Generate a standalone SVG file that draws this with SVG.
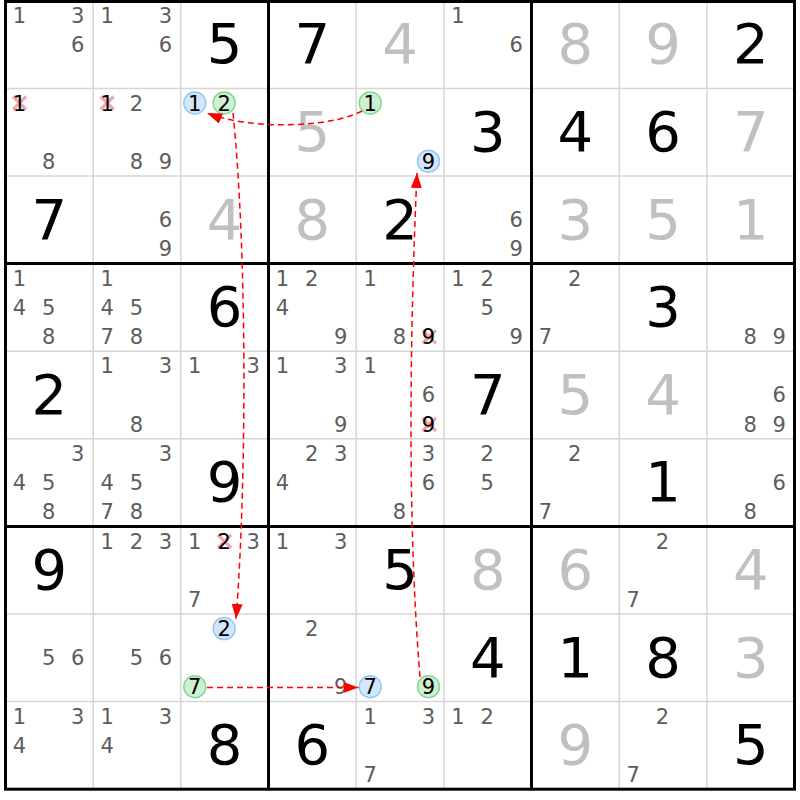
<svg xmlns="http://www.w3.org/2000/svg" width="800" height="800" viewBox="0 0 800 800">
<style>
text{font-family:"DejaVu Sans",Verdana,sans-serif;text-anchor:middle}
.g{font-size:56px;fill:#000}
.s{font-size:56px;fill:#c0c0c0}
.c{font-size:21px;fill:#5c5c5c}
.k{font-size:21px;fill:#000}
.bl{fill:#d2e7fb;stroke:#96c8f2;stroke-width:1.5}
.gr{fill:#cfefd2;stroke:#84d892;stroke-width:1.5}
.x{stroke:#f5a5ad;stroke-width:3.2}
.thin{stroke:#d6d6d6;stroke-width:1.5}
.thick{stroke:#000;stroke-width:3;fill:none}
.ln{fill:none;stroke:#f00;stroke-width:1.5;stroke-dasharray:6 4}
</style>
<defs>
<marker id="ah" markerUnits="userSpaceOnUse" markerWidth="15" markerHeight="11" refX="15" refY="5.5" orient="auto">
<path d="M0,0 L15,5.5 L0,11 z" fill="#f00"/>
</marker>
</defs>
<rect width="800" height="800" fill="#fff"/>
<g id="grid">
<path class="thin" d="M93.2,1V789M180.8,1V789M356.2,1V789M443.9,1V789M619.2,1V789M706.9,1V789M5,88.4H795M5,176H795M5,351.2H795M5,438.8H795M5,614H795M5,701.6H795"/>
<path class="thick" d="M268.5,1V789M531.5,1V789M5,263.6H795M5,526.4H795"/>
<rect class="thick" x="5.5" y="1.5" width="789" height="787.7"/>
</g>
<g id="r1c1"><text class="c" x="19.5" y="22.9">1</text><text class="c" x="77.8" y="22.9">3</text><text class="c" x="77.8" y="51.9">6</text></g>
<g id="r1c2"><text class="c" x="107.2" y="22.9">1</text><text class="c" x="165.5" y="22.9">3</text><text class="c" x="165.5" y="51.9">6</text></g>
<g id="r1c3"><text class="g" x="224.6" y="63.3">5</text></g>
<g id="r1c4"><text class="g" x="312.3" y="63.3">7</text></g>
<g id="r1c5"><text class="s" x="400" y="63.3">4</text></g>
<g id="r1c6"><text class="c" x="457.9" y="22.9">1</text><text class="c" x="516.2" y="51.9">6</text></g>
<g id="r1c7"><text class="s" x="575.3" y="63.3">8</text></g>
<g id="r1c8"><text class="s" x="663" y="63.3">9</text></g>
<g id="r1c9"><text class="g" x="750.7" y="63.3">2</text></g>
<g id="r2c1"><path class="x" d="M13,96.5L26,109.5M26,96.5L13,109.5"/><text class="k" x="19.5" y="110.6">1</text><text class="c" x="48.8" y="168.8">8</text></g>
<g id="r2c2"><path class="x" d="M100.7,96.5L113.7,109.5M113.7,96.5L100.7,109.5"/><text class="k" x="107.2" y="110.6">1</text><text class="c" x="136.5" y="110.6">2</text><text class="c" x="136.5" y="168.8">8</text><text class="c" x="165.5" y="168.8">9</text></g>
<g id="r2c3"><circle class="bl" cx="194.8" cy="103" r="11"/><text class="k" x="194.8" y="110.6">1</text><circle class="gr" cx="224.1" cy="103" r="11"/><text class="k" x="224.1" y="110.6">2</text></g>
<g id="r2c4"><text class="s" x="312.3" y="150.9">5</text></g>
<g id="r2c5"><circle class="gr" cx="370.2" cy="103" r="11"/><text class="k" x="370.2" y="110.6">1</text><circle class="bl" cx="428.5" cy="161.2" r="11"/><text class="k" x="428.5" y="168.8">9</text></g>
<g id="r2c6"><text class="g" x="487.7" y="150.9">3</text></g>
<g id="r2c7"><text class="g" x="575.3" y="150.9">4</text></g>
<g id="r2c8"><text class="g" x="663" y="150.9">6</text></g>
<g id="r2c9"><text class="s" x="750.7" y="150.9">7</text></g>
<g id="r3c1"><text class="g" x="49.3" y="238.5">7</text></g>
<g id="r3c2"><text class="c" x="165.5" y="227.2">6</text><text class="c" x="165.5" y="256.4">9</text></g>
<g id="r3c3"><text class="s" x="224.6" y="238.5">4</text></g>
<g id="r3c4"><text class="s" x="312.3" y="238.5">8</text></g>
<g id="r3c5"><text class="g" x="400" y="238.5">2</text></g>
<g id="r3c6"><text class="c" x="516.2" y="227.2">6</text><text class="c" x="516.2" y="256.4">9</text></g>
<g id="r3c7"><text class="s" x="575.3" y="238.5">3</text></g>
<g id="r3c8"><text class="s" x="663" y="238.5">5</text></g>
<g id="r3c9"><text class="s" x="750.7" y="238.5">1</text></g>
<g id="r4c1"><text class="c" x="19.5" y="285.8">1</text><text class="c" x="19.5" y="314.8">4</text><text class="c" x="48.8" y="314.8">5</text><text class="c" x="48.8" y="344">8</text></g>
<g id="r4c2"><text class="c" x="107.2" y="285.8">1</text><text class="c" x="107.2" y="314.8">4</text><text class="c" x="136.5" y="314.8">5</text><text class="c" x="107.2" y="344">7</text><text class="c" x="136.5" y="344">8</text></g>
<g id="r4c3"><text class="g" x="224.6" y="326.1">6</text></g>
<g id="r4c4"><text class="c" x="282.5" y="285.8">1</text><text class="c" x="311.8" y="285.8">2</text><text class="c" x="282.5" y="314.8">4</text><text class="c" x="340.8" y="344">9</text></g>
<g id="r4c5"><text class="c" x="370.2" y="285.8">1</text><text class="c" x="399.5" y="344">8</text><path class="x" d="M422.5,330.4L436,343.4M436,330.4L422.5,343.4"/><text class="k" x="428.5" y="344">9</text></g>
<g id="r4c6"><text class="c" x="457.9" y="285.8">1</text><text class="c" x="487.2" y="285.8">2</text><text class="c" x="487.2" y="314.8">5</text><text class="c" x="516.2" y="344">9</text></g>
<g id="r4c7"><text class="c" x="574.8" y="285.8">2</text><text class="c" x="545.5" y="344">7</text></g>
<g id="r4c8"><text class="g" x="663" y="326.1">3</text></g>
<g id="r4c9"><text class="c" x="750.2" y="344">8</text><text class="c" x="779.2" y="344">9</text></g>
<g id="r5c1"><text class="g" x="49.3" y="413.7">2</text></g>
<g id="r5c2"><text class="c" x="107.2" y="373.4">1</text><text class="c" x="165.5" y="373.4">3</text><text class="c" x="136.5" y="431.6">8</text></g>
<g id="r5c3"><text class="c" x="194.8" y="373.4">1</text><text class="c" x="253.1" y="373.4">3</text></g>
<g id="r5c4"><text class="c" x="282.5" y="373.4">1</text><text class="c" x="340.8" y="373.4">3</text><text class="c" x="340.8" y="431.6">9</text></g>
<g id="r5c5"><text class="c" x="370.2" y="373.4">1</text><text class="c" x="428.5" y="402.4">6</text><path class="x" d="M422.5,418L436,431M436,418L422.5,431"/><text class="k" x="428.5" y="431.6">9</text></g>
<g id="r5c6"><text class="g" x="487.7" y="413.7">7</text></g>
<g id="r5c7"><text class="s" x="575.3" y="413.7">5</text></g>
<g id="r5c8"><text class="s" x="663" y="413.7">4</text></g>
<g id="r5c9"><text class="c" x="779.2" y="402.4">6</text><text class="c" x="750.2" y="431.6">8</text><text class="c" x="779.2" y="431.6">9</text></g>
<g id="r6c1"><text class="c" x="77.8" y="461">3</text><text class="c" x="19.5" y="490">4</text><text class="c" x="48.8" y="490">5</text><text class="c" x="48.8" y="519.2">8</text></g>
<g id="r6c2"><text class="c" x="165.5" y="461">3</text><text class="c" x="107.2" y="490">4</text><text class="c" x="136.5" y="490">5</text><text class="c" x="107.2" y="519.2">7</text><text class="c" x="136.5" y="519.2">8</text></g>
<g id="r6c3"><text class="g" x="224.6" y="501.3">9</text></g>
<g id="r6c4"><text class="c" x="311.8" y="461">2</text><text class="c" x="340.8" y="461">3</text><text class="c" x="282.5" y="490">4</text></g>
<g id="r6c5"><text class="c" x="428.5" y="461">3</text><text class="c" x="428.5" y="490">6</text><text class="c" x="399.5" y="519.2">8</text></g>
<g id="r6c6"><text class="c" x="487.2" y="461">2</text><text class="c" x="487.2" y="490">5</text></g>
<g id="r6c7"><text class="c" x="574.8" y="461">2</text><text class="c" x="545.5" y="519.2">7</text></g>
<g id="r6c8"><text class="g" x="663" y="501.3">1</text></g>
<g id="r6c9"><text class="c" x="779.2" y="490">6</text><text class="c" x="750.2" y="519.2">8</text></g>
<g id="r7c1"><text class="g" x="49.3" y="588.9">9</text></g>
<g id="r7c2"><text class="c" x="107.2" y="548.6">1</text><text class="c" x="136.5" y="548.6">2</text><text class="c" x="165.5" y="548.6">3</text></g>
<g id="r7c3"><text class="c" x="194.8" y="548.6">1</text><path class="x" d="M217.8,534.8L231.3,547.8M231.3,534.8L217.8,547.8"/><text class="k" x="224.1" y="548.6">2</text><text class="c" x="253.1" y="548.6">3</text><text class="c" x="194.8" y="606.8">7</text></g>
<g id="r7c4"><text class="c" x="282.5" y="548.6">1</text><text class="c" x="340.8" y="548.6">3</text></g>
<g id="r7c5"><text class="g" x="400" y="588.9">5</text></g>
<g id="r7c6"><text class="s" x="487.7" y="588.9">8</text></g>
<g id="r7c7"><text class="s" x="575.3" y="588.9">6</text></g>
<g id="r7c8"><text class="c" x="662.5" y="548.6">2</text><text class="c" x="633.2" y="606.8">7</text></g>
<g id="r7c9"><text class="s" x="750.7" y="588.9">4</text></g>
<g id="r8c1"><text class="c" x="48.8" y="665.2">5</text><text class="c" x="77.8" y="665.2">6</text></g>
<g id="r8c2"><text class="c" x="136.5" y="665.2">5</text><text class="c" x="165.5" y="665.2">6</text></g>
<g id="r8c3"><circle class="bl" cx="224.1" cy="628.6" r="11"/><text class="k" x="224.1" y="636.2">2</text><circle class="gr" cx="194.8" cy="686.8" r="11"/><text class="k" x="194.8" y="694.4">7</text></g>
<g id="r8c4"><text class="c" x="311.8" y="636.2">2</text><text class="c" x="340.8" y="694.4">9</text></g>
<g id="r8c5"><circle class="bl" cx="370.2" cy="686.8" r="11"/><text class="k" x="370.2" y="694.4">7</text><circle class="gr" cx="428.5" cy="686.8" r="11"/><text class="k" x="428.5" y="694.4">9</text></g>
<g id="r8c6"><text class="g" x="487.7" y="676.5">4</text></g>
<g id="r8c7"><text class="g" x="575.3" y="676.5">1</text></g>
<g id="r8c8"><text class="g" x="663" y="676.5">8</text></g>
<g id="r8c9"><text class="s" x="750.7" y="676.5">3</text></g>
<g id="r9c1"><text class="c" x="19.5" y="723.8">1</text><text class="c" x="77.8" y="723.8">3</text><text class="c" x="19.5" y="752.8">4</text></g>
<g id="r9c2"><text class="c" x="107.2" y="723.8">1</text><text class="c" x="165.5" y="723.8">3</text><text class="c" x="107.2" y="752.8">4</text></g>
<g id="r9c3"><text class="g" x="224.6" y="764.1">8</text></g>
<g id="r9c4"><text class="g" x="312.3" y="764.1">6</text></g>
<g id="r9c5"><text class="c" x="370.2" y="723.8">1</text><text class="c" x="428.5" y="723.8">3</text><text class="c" x="370.2" y="782">7</text></g>
<g id="r9c6"><text class="c" x="457.9" y="723.8">1</text><text class="c" x="487.2" y="723.8">2</text></g>
<g id="r9c7"><text class="s" x="575.3" y="764.1">9</text></g>
<g id="r9c8"><text class="c" x="662.5" y="723.8">2</text><text class="c" x="633.2" y="782">7</text></g>
<g id="r9c9"><text class="g" x="750.7" y="764.1">5</text></g>
<g id="connectors">
<path class="ln" marker-end="url(#ah)" d="M362,111 C330,128 250,130 207,113"/>
<path class="ln" marker-end="url(#ah)" d="M233,113 C247,250 247,480 236,619"/>
<path class="ln" marker-end="url(#ah)" d="M207,687.5 L358.5,687.5"/>
<path class="ln" marker-end="url(#ah)" d="M420,677 C407,520 410,330 417,173"/>
</g>
</svg>
